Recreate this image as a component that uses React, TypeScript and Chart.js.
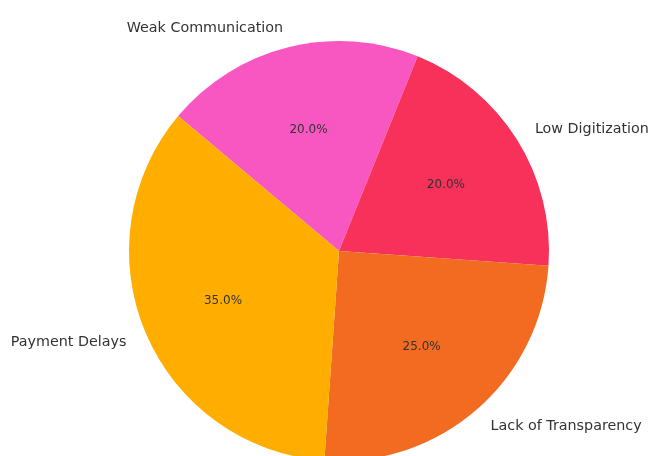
import React, { useEffect, useRef } from "react";
import { Chart, registerables } from "chart.js";

Chart.register(...registerables);

// Clockwise order (Chart.js draws clockwise)
const categories = ["Weak Communication", "Low Digitization", "Lack of Transparency", "Payment Delays"];
const values = [20, 20, 25, 35];
const colors = ["#F857C1", "#F7315A", "#F26B21", "#FFAE00"];

const labelPlugin = {
  id: "mplLabels",
  afterDatasetsDraw(chart: any) {
    const ctx = chart.ctx;
    const meta = chart.getDatasetMeta(0);
    const total = values.reduce((a, b) => a + b, 0);
    ctx.save();
    meta.data.forEach((arc: any, i: number) => {
      const { x, y, outerRadius, startAngle, endAngle } = arc.getProps(
        ["x", "y", "outerRadius", "startAngle", "endAngle"],
        true
      );
      const mid = (startAngle + endAngle) / 2;
      const cx = Math.cos(mid);
      const cy = Math.sin(mid);
      // outer label
      ctx.font = "14.3px 'DejaVu Sans'";
      ctx.fillStyle = "#333333";
      ctx.textBaseline = "middle";
      ctx.textAlign = cx > 0 ? "left" : "right";
      ctx.fillText(categories[i], x + cx * outerRadius * 1.1, y + cy * outerRadius * 1.1 + 1);
      // percent label
      ctx.font = "12px 'DejaVu Sans'";
      ctx.textAlign = "center";
      const pct = ((values[i] / total) * 100).toFixed(1) + "%";
      ctx.fillText(pct, x + cx * outerRadius * 0.6, y + cy * outerRadius * 0.6 + 1);
    });
    ctx.restore();
  },
};

export default function App() {
  const ref = useRef<HTMLCanvasElement>(null);
  useEffect(() => {
    document.body.style.margin = "0";
    const chart = new Chart(ref.current!, {
      type: "pie",
      data: {
        labels: categories,
        datasets: [
          {
            data: values,
            backgroundColor: colors,
            borderWidth: 0,
          },
        ],
      },
      options: {
        responsive: false,
        animation: false,
        rotation: -50,
        layout: { padding: { left: 129, right: 99, top: 41, bottom: 39 } },
        plugins: {
          legend: { display: false },
          tooltip: { enabled: false },
        },
      },
      plugins: [labelPlugin],
    });
    return () => chart.destroy();
  }, []);
  return (
    <div style={{ width: 648, height: 456, overflow: "hidden", background: "#fff" }}>
      <canvas ref={ref} width={648} height={500} style={{ display: "block" }} />
    </div>
  );
}
